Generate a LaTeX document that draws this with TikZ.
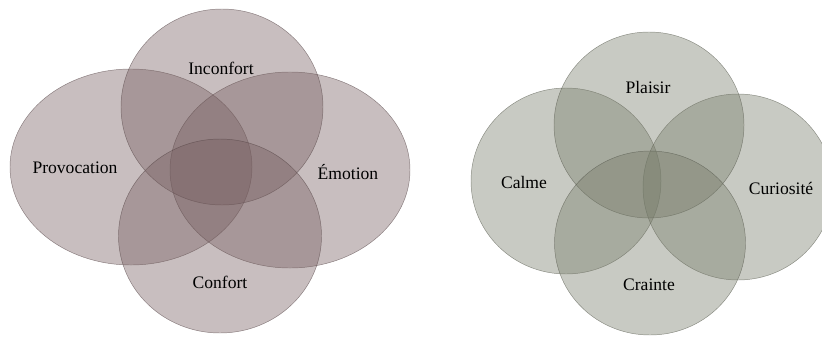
\documentclass[tikz,border=0pt]{standalone}
\usepackage{fontspec}
\setmainfont{Liberation Serif}
\usetikzlibrary{shapes.geometric}

\definecolor{mauve}{RGB}{117,93,95}
\definecolor{sage}{RGB}{118,123,105}

\tikzset{
  petal/.style={ellipse,draw=#1!70!black,draw opacity=0.6,fill=#1,fill opacity=0.4,line width=0.4pt,inner sep=0pt},
  word/.style={font=\fontsize{15}{17}\selectfont,text=black}
}

\begin{document}
\begin{tikzpicture}[x=0.03cm,y=-0.03cm]
  \useasboundingbox (0,0) rectangle (822,336);
  % left diagram
  \node[petal=mauve,minimum width=7.26cm,minimum height=5.88cm] (provo) at (131,167) {};
  \node[petal=mauve,minimum width=7.2cm,minimum height=5.88cm] (emo) at (290,170) {};
  \node[petal=mauve,minimum width=6.06cm,minimum height=5.88cm] (incon) at (222,107) {};
  \node[petal=mauve,minimum width=6.09cm,minimum height=5.82cm] (conf) at (220,236) {};
  \node[word] (lincon) at (221,68) {Inconfort};
  \node[word] (lprovo) at (75,168) {Provocation};
  \node[word] (lemo) at (348,172) {Émotion};
  \node[word] (lconf) at (220,282) {Confort};
  % right diagram
  \node[petal=sage,minimum width=5.7cm,minimum height=5.58cm] (calme) at (566,181) {};
  \node[petal=sage,minimum width=5.7cm,minimum height=5.58cm] (curio) at (738,187) {};
  \node[petal=sage,minimum width=5.7cm,minimum height=5.58cm] (plaisir) at (649,125) {};
  \node[petal=sage,minimum width=5.73cm,minimum height=5.52cm] (crainte) at (650,243) {};
  \node[word] (lplaisir) at (648,87) {Plaisir};
  \node[word] (lcalme) at (524,182) {Calme};
  \node[word] (lcurio) at (781,188) {Curiosité};
  \node[word] (lcrainte) at (649,285) {Crainte};
\end{tikzpicture}
\end{document}
